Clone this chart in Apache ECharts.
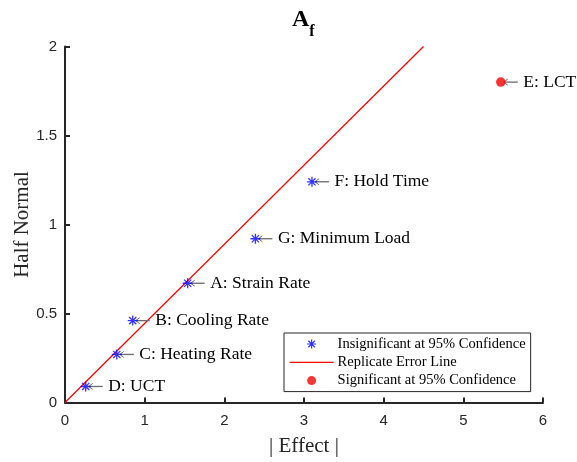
<!DOCTYPE html>
<html>
<head>
<meta charset="utf-8">
<script src="https://cdn.jsdelivr.net/npm/echarts@6/dist/echarts.min.js"></script>
<style>
  html, body { margin: 0; padding: 0; background: #fff; }
  #chart { width: 577px; height: 462px; }
</style>
</head>
<body>
<div id="chart"></div>
<script>
// Factor names and their half-normal plot coordinates
const factorLabels = ['A: Strain Rate', 'B: Cooling Rate', 'C: Heating Rate', 'D: UCT', 'E: LCT', 'F: Hold Time', 'G: Minimum Load'];
const effects      = [1.54, 0.85, 0.65, 0.26, 5.47, 3.10, 2.39];
const halfNormal   = [0.67, 0.46, 0.27, 0.09, 1.80, 1.24, 0.92];
const significant  = [false, false, false, false, true, false, false];

// Replicate error reference line end points
const errorLineX = [0, 4.5];
const errorLineY = [0, 2];

const xTicks = { min: 0, max: 6, interval: 1 };
const yTicks = { min: 0, max: 2, interval: 0.5 };

const SERIF = '"Liberation Serif", "Times New Roman", serif';
const SANS = '"Liberation Sans", Arial, Helvetica, sans-serif';
const AXIS_COLOR = '#262626';

// Asterisk marker drawn as stroked spokes
const ASTERISK = 'path://M0,-5L0,5M-5,0L5,0M-3.6,-3.6L3.6,3.6M-3.6,3.6L3.6,-3.6';

const insigData = [];
const sigData = [];
const annoData = [];
effects.forEach((x, i) => {
  (significant[i] ? sigData : insigData).push([x, halfNormal[i]]);
  annoData.push([x, halfNormal[i], i]);
});
const lineData = errorLineX.map((x, i) => [x, errorLineY[i]]);

const chart = echarts.init(document.getElementById('chart'), null, { renderer: 'canvas' });

const axisCommon = {
  axisLine: { show: true, onZero: false, lineStyle: { color: AXIS_COLOR, width: 2 } },
  axisTick: { show: true, inside: true, length: 5, lineStyle: { color: AXIS_COLOR, width: 2 } },
  splitLine: { show: false },
  nameLocation: 'middle',
  nameMoveOverlap: false,
  nameTextStyle: { color: AXIS_COLOR, fontFamily: SERIF, fontSize: 21 }
};
const tickFont = { color: AXIS_COLOR, fontFamily: SANS, fontSize: 15 };

chart.setOption({
  animation: false,
  backgroundColor: '#fff',
  title: {
    text: '{a|A}{b|f}',
    left: 292,
    top: 8,
    padding: 0,
    textStyle: {
      rich: {
        a: { fontFamily: SERIF, fontWeight: 'bold', fontSize: 24, lineHeight: 24, color: '#000', verticalAlign: 'top' },
        b: { fontFamily: SERIF, fontWeight: 'bold', fontSize: 16, lineHeight: 16, color: '#000', verticalAlign: 'top', padding: [16, 0, 0, 0] }
      }
    }
  },
  grid: { left: 65, right: 34, top: 46.5, bottom: 59.5, containLabel: false, outerBoundsMode: 'none' },
  legend: {
    orient: 'vertical',
    left: 284,
    top: 333,
    padding: [2, 5, 2, 5],
    itemWidth: 44,
    itemHeight: 9,
    itemGap: 0.3,
    backgroundColor: '#fff',
    borderColor: AXIS_COLOR,
    borderWidth: 1,
    borderRadius: 0,
    selectedMode: false,
    textStyle: { fontFamily: SERIF, fontSize: 14.5, lineHeight: 18, color: '#000', padding: [0, 0, 0, -1] },
    data: [
      { name: 'Insignificant at 95% Confidence', icon: ASTERISK, itemStyle: { color: '#0000ff', borderColor: '#0000ff', borderWidth: 1.2 } },
      { name: 'Replicate Error Line', itemStyle: { color: 'transparent', borderWidth: 0, opacity: 0 }, lineStyle: { color: '#ff0000', width: 1.2 } },
      { name: 'Significant at 95% Confidence', icon: 'circle', itemStyle: { color: '#ff0000', borderWidth: 0 } }
    ]
  },
  xAxis: Object.assign({}, axisCommon, {
    type: 'value',
    min: xTicks.min, max: xTicks.max, interval: xTicks.interval,
    axisLabel: Object.assign({ margin: 11 }, tickFont),
    name: '| Effect |',
    nameGap: 33.5
  }),
  yAxis: Object.assign({}, axisCommon, {
    type: 'value',
    min: yTicks.min, max: yTicks.max, interval: yTicks.interval,
    axisLabel: Object.assign({ margin: 8 }, tickFont),
    name: 'Half Normal',
    nameGap: 32.5
  }),
  series: [
    {
      name: 'Replicate Error Line',
      type: 'line',
      data: lineData,
      symbol: 'none',
      showSymbol: false,
      lineStyle: { color: '#ff0000', width: 1.2 },
      itemStyle: { color: '#ff0000' },
      silent: true,
      z: 2
    },
    {
      name: 'Annotations',
      type: 'custom',
      data: annoData,
      clip: false,
      silent: true,
      z: 3,
      renderItem: function (params, api) {
        const p = api.coord([api.value(0), api.value(1)]);
        const idx = api.value(2);
        const cx = p[0], cy = p[1];
        const x0 = cx + 3, x1 = cx + 17;
        return {
          type: 'group',
          children: [
            { type: 'line', shape: { x1: x0, y1: cy, x2: x1, y2: cy }, style: { stroke: '#6a6a6a', lineWidth: 1.3 } },
            { type: 'polyline', shape: { points: [[x0 + 4, cy - 3], [x0, cy], [x0 + 4, cy + 3]] }, style: { stroke: '#6a6a6a', fill: null, lineWidth: 1 } },
            { type: 'text', x: cx + 22.5, y: cy, style: { text: factorLabels[idx], fill: '#000', font: '17.5px ' + SERIF, verticalAlign: 'middle', align: 'left' } }
          ]
        };
      }
    },
    {
      name: 'Insignificant at 95% Confidence',
      type: 'scatter',
      data: insigData,
      symbol: ASTERISK,
      symbolSize: 10,
      itemStyle: { color: '#0000ff', borderColor: '#0000ff', borderWidth: 1.3 },
      emphasis: { disabled: true },
      silent: true,
      z: 4
    },
    {
      name: 'Significant at 95% Confidence',
      type: 'scatter',
      data: sigData,
      symbol: 'circle',
      symbolSize: 9.5,
      itemStyle: { color: '#ff0000' },
      emphasis: { disabled: true },
      silent: true,
      z: 4
    }
  ]
});
</script>
</body>
</html>
